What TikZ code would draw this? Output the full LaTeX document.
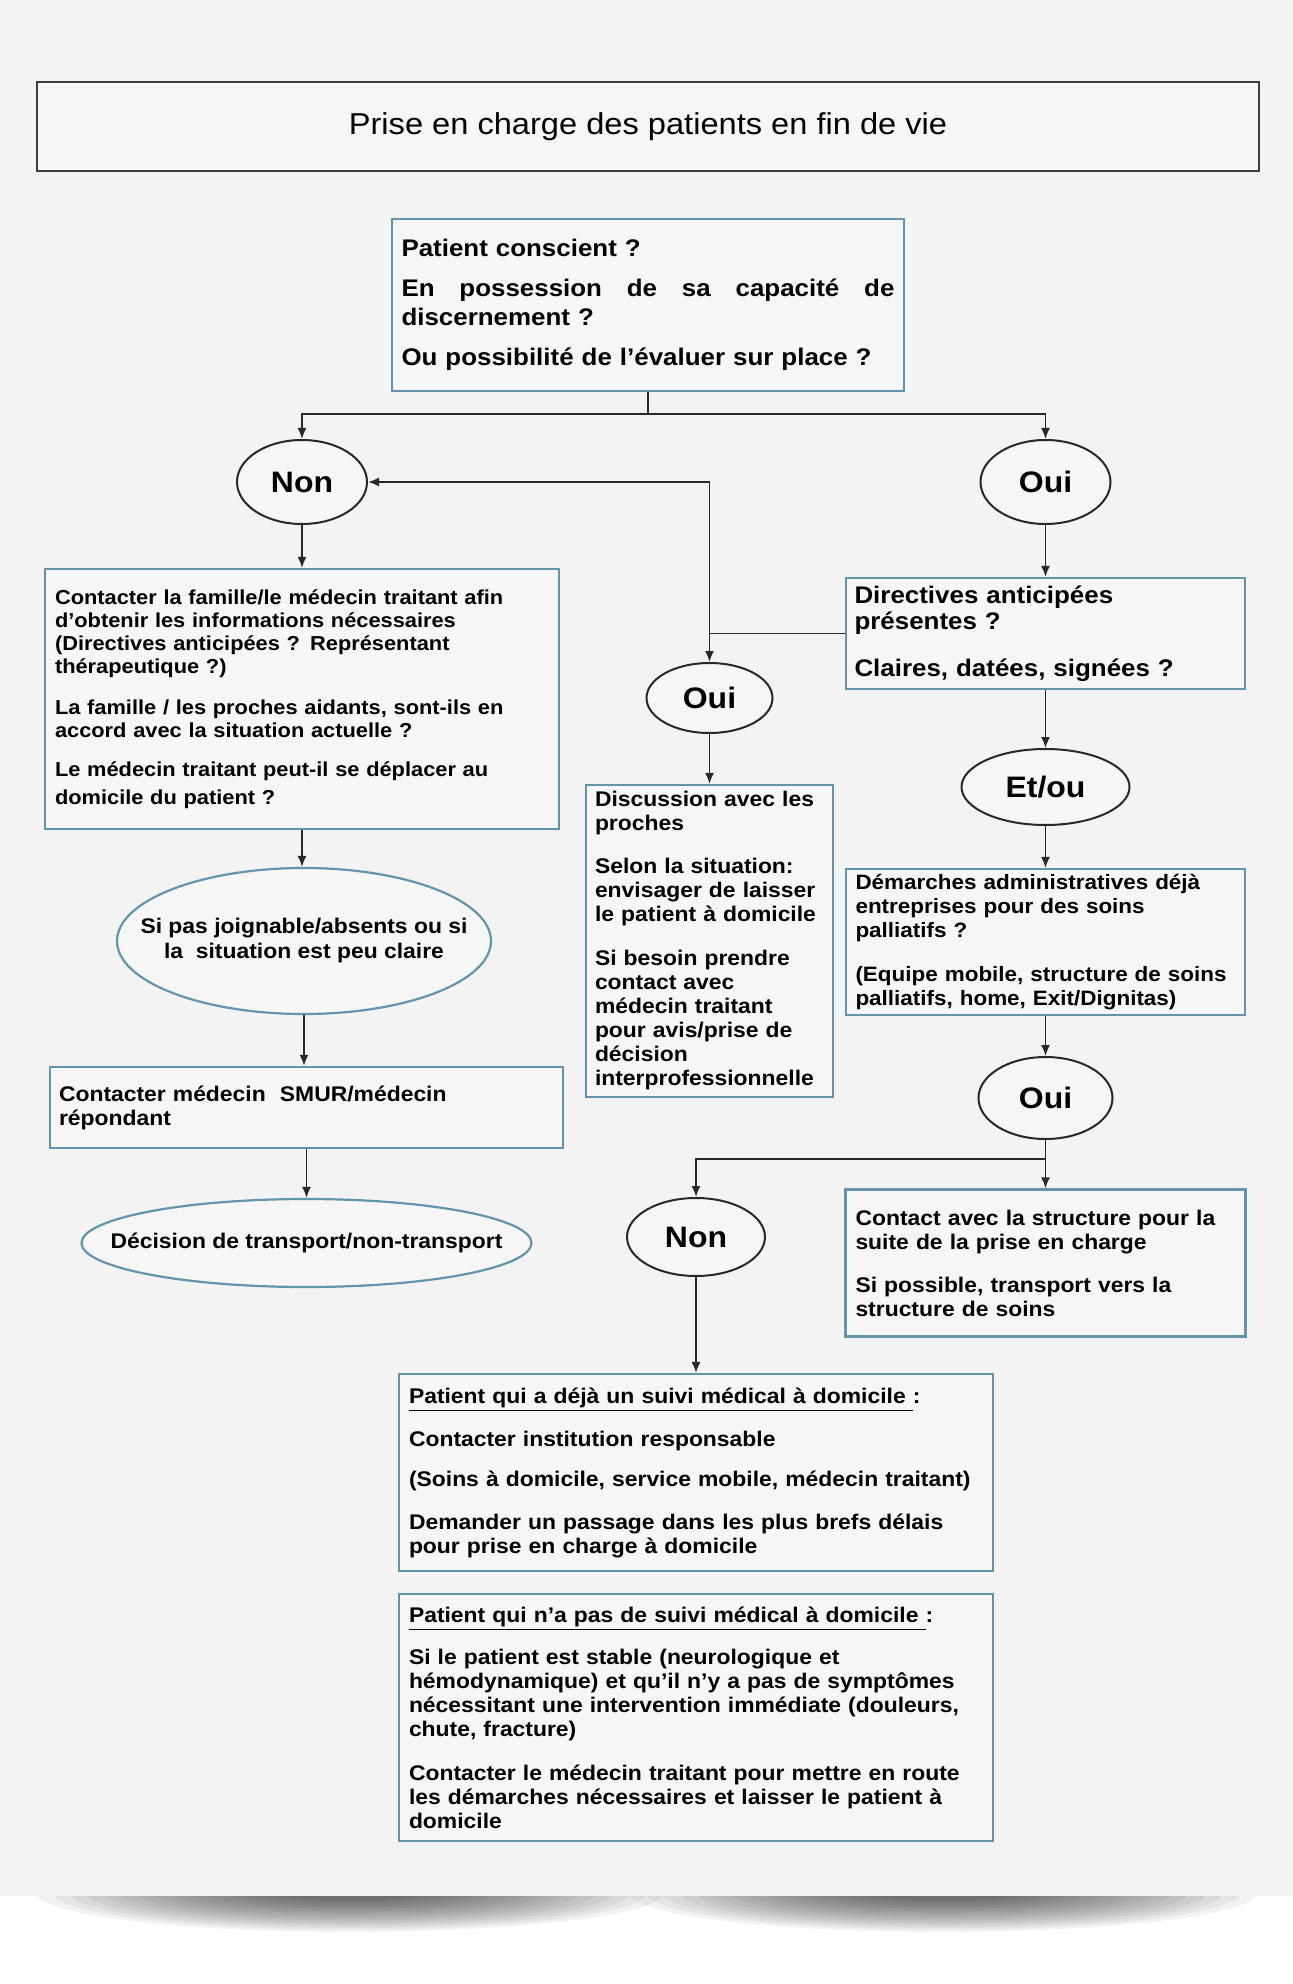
\documentclass[tikz,border=0pt]{standalone}
\usepackage{fontspec}
\setmainfont{Liberation Sans}[FakeStretch=1.08]
\usetikzlibrary{arrows.meta,shapes.geometric}
\definecolor{bgc}{RGB}{243,243,243}
\definecolor{boxfill}{RGB}{246,246,246}
\definecolor{bluebd}{RGB}{100,148,172}
\definecolor{linec}{RGB}{40,40,40}
\newcommand{\fs}[2]{\fontsize{#1pt}{#2pt}\selectfont\bfseries}
\tikzset{
  bbox/.style={draw=bluebd, line width=1.1pt, fill=boxfill, rectangle, align=left, inner ysep=0pt, text=black},
  titlebox/.style={draw=linec!90, line width=1.3pt, fill=boxfill, rectangle, inner sep=0pt, font=\fontsize{15.1pt}{18pt}\selectfont},
  decel/.style={draw=linec, line width=1pt, fill=boxfill, ellipse, inner sep=0pt, font=\fs{14.8}{17}},
  blueel/.style={draw=bluebd, line width=1.1pt, fill=boxfill, ellipse, inner ysep=0pt, align=center, font=\fs{10.6}{12.5}},
  arr/.style={draw=linec, line width=0.9pt, -{Latex[length=5.5pt,width=4.5pt]}},
  ln/.style={draw=linec, line width=0.9pt},
}
\begin{document}
\begin{tikzpicture}[x=0.5pt,y=-0.5pt]
\useasboundingbox (0,0) rectangle (1293,1984);
\fill[white] (0,0) rectangle (1293,1984);
\fill[bgc] (0,0) rectangle (1293,1896);
% bottom curled shadow
\begin{scope}
\clip (0,1896) rectangle (1293,1984);
\foreach \k in {0,...,14}{
  \fill[black,opacity=0.05] (350,1892) ellipse ({315-\k*17} and {40-\k*2.3});
  \fill[black,opacity=0.05] (943,1892) ellipse ({315-\k*17} and {40-\k*2.3});
}
\end{scope}

% title
\node[titlebox, minimum width=611pt, minimum height=44.5pt] (title) at (648,126.5) {Prise en charge des patients en fin de vie};

% first question
\node[bbox, minimum width=256pt, minimum height=86pt, text width=246.5pt, inner xsep=4.75pt, font=\fs{12}{14.5}] (q1) at (648,305)
{Patient conscient ?\\[5.5pt]
\makebox[246.5pt][l]{En\hfill possession\hfill de\hfill sa\hfill capacité\hfill de}\\
discernement ?\\[5.5pt]
Ou possibilité de l’évaluer sur place ?};

\node[decel, minimum width=65pt, minimum height=42pt] (nonA) at (302,482) {Non};
\node[decel, minimum width=65pt, minimum height=42pt] (ouiA) at (1045.5,482) {Oui};

% left column
\node[bbox, minimum width=257pt, minimum height=130pt, text width=247pt, inner xsep=5pt, font=\fs{10.1}{11.5}] (fam) at (302,699)
{Contacter la famille/le médecin traitant afin\\
d’obtenir les informations nécessaires\\
(Directives anticipées ? Représentant\\
thérapeutique ?)\\[9pt]
La famille / les proches aidants, sont-ils en\\
accord avec la situation actuelle ?\\[8pt]
Le médecin traitant peut-il se déplacer au\\[2.5pt]
domicile du patient ?};

\node[blueel, minimum width=187pt, minimum height=73pt, inner xsep=-16pt] (sipas) at (304,941)
{Si pas joignable/absents ou si\\ la\ \ situation est peu claire};

\node[bbox, minimum width=256.5pt, minimum height=40.5pt, text width=247.5pt, inner xsep=4.5pt, font=\fs{10.6}{12}] (smur) at (306.5,1107.5)
{Contacter médecin\ \ SMUR/médecin\\ répondant};

\node[blueel, minimum width=225pt, minimum height=44pt, inner xsep=-20pt] (dec) at (306.5,1243)
{Décision de transport/non-transport};

% right column
\node[bbox, minimum width=199.5pt, minimum height=55.5pt, text width=191pt, inner xsep=4.25pt, font=\fs{12}{13}] (dir) at (1045.5,633.5)
{Directives anticipées\\
présentes ?\\[10.5pt]
Claires, datées, signées ?};

\node[decel, minimum width=63pt, minimum height=35pt] (ouiB) at (709.5,698) {Oui};

\node[bbox, minimum width=123.5pt, minimum height=156pt, text width=114.5pt, inner xsep=4.5pt, font=\fs{10.6}{12}] (disc) at (709.5,941)
{Discussion avec les\\ proches\\[9.5pt]
Selon la situation:\\ envisager de laisser\\ le patient à domicile\\[10pt]
Si besoin prendre\\ contact avec\\ médecin traitant\\ pour avis/prise de\\ décision\\ interprofessionnelle};

\node[decel, minimum width=84pt, minimum height=38pt] (etou) at (1045.5,787) {Et/ou};

\node[bbox, minimum width=199.5pt, minimum height=73pt, text width=190pt, inner xsep=4.75pt, font=\fs{10.4}{12}] (dem) at (1045.5,942)
{Démarches administratives déjà\\ entreprises pour des soins\\ palliatifs ?\\[10pt]
(Equipe mobile, structure de soins\\ palliatifs, home, Exit/Dignitas)};

\node[decel, minimum width=67pt, minimum height=41pt] (ouiC) at (1045.5,1098) {Oui};

\node[decel, minimum width=69pt, minimum height=39pt] (nonC) at (696,1237) {Non};

\node[bbox, minimum width=200pt, minimum height=73.5pt, text width=190pt, inner xsep=5pt, font=\fs{10.6}{12}] (contact) at (1045.5,1263)
{Contact avec la structure pour la\\ suite de la prise en charge\\[9.5pt]
Si possible, transport vers la\\ structure de soins};

\node[bbox, minimum width=297pt, minimum height=98.5pt, text width=287pt, inner xsep=5pt, font=\fs{10.6}{12}] (p1) at (696,1472.5)
{\underline{Patient qui a déjà un suivi médical à domicile\ }:\\[9.5pt]
Contacter institution responsable\\[8pt]
(Soins à domicile, service mobile, médecin traitant)\\[9.5pt]
Demander un passage dans les plus brefs délais\\
pour prise en charge à domicile};

\node[bbox, minimum width=297pt, minimum height=123.5pt, text width=287pt, inner xsep=5pt, font=\fs{10.6}{12}] (p2) at (696,1717.5)
{\underline{Patient qui n’a pas de suivi médical à domicile\ }:\\[9pt]
Si le patient est stable (neurologique et\\
hémodynamique) et qu’il n’y a pas de symptômes\\
nécessitant une intervention immédiate (douleurs,\\
chute, fracture)\\[10pt]
Contacter le médecin traitant pour mettre en route\\
les démarches nécessaires et laisser le patient à\\
domicile};

% connectors
\coordinate (s1) at (648,414);
\draw[ln] (q1.south) -- (s1);
\draw[arr] (s1) -| (nonA.north);
\draw[arr] (s1) -| (ouiA.north);
\draw[arr] (ouiA.south) -- (dir.north);
\draw[arr] (dir.west) -| (ouiB.north);
\draw[arr] (ouiB.north |- dir.west) |- (nonA.east);
\draw[arr] (nonA.south) -- (fam.north);
\draw[arr] (fam.south) -- (fam.south |- sipas.north);
\draw[arr] (sipas.south) -- (sipas.south |- smur.north);
\draw[arr] (smur.south) -- (dec.north);
\draw[arr] (ouiB.south) -- (disc.north);
\draw[arr] (dir.south) -- (etou.north);
\draw[arr] (etou.south) -- (dem.north);
\draw[arr] (dem.south) -- (ouiC.north);
\coordinate (s2) at (1045.5,1159);
\draw[ln] (ouiC.south) -- (s2);
\draw[arr] (s2) -| (nonC.north);
\draw[arr] (s2) -- (contact.north);
\draw[arr] (nonC.south) -- (p1.north);
\end{tikzpicture}
\end{document}
